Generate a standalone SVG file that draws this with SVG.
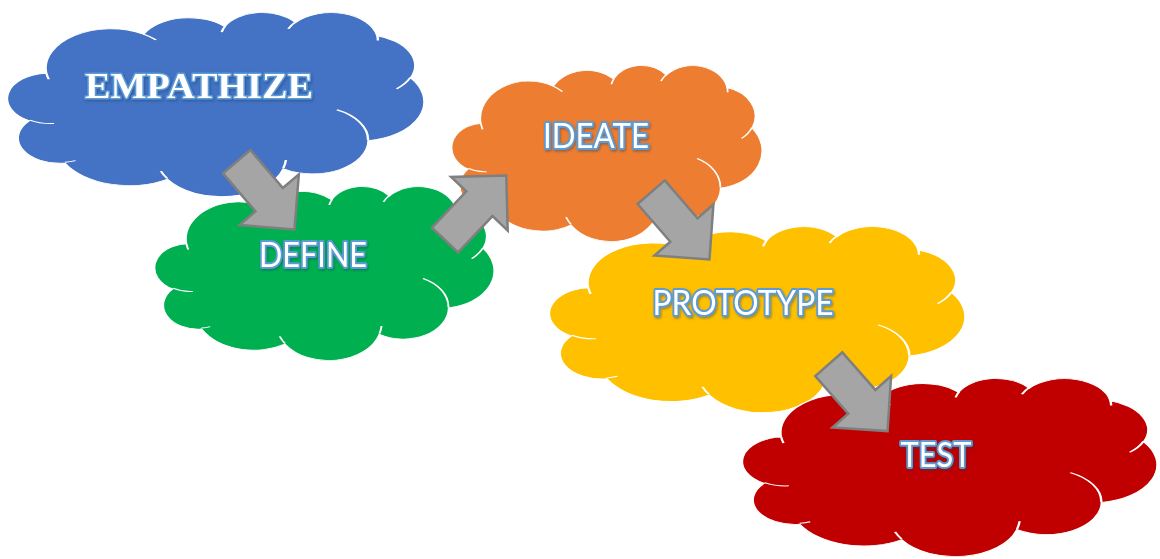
<svg xmlns="http://www.w3.org/2000/svg" xmlns:xlink="http://www.w3.org/1999/xlink" width="1160" height="559" viewBox="0 0 1160 559">
  <style>
    .cloud { stroke: #ffffff; stroke-width: 2; vector-effect: non-scaling-stroke; }
    .seams { fill: none; stroke: #ffffff; stroke-width: 2.5; vector-effect: non-scaling-stroke; }
    .blue { fill: #4472C4; }
    .green { fill: #00B050; }
    .orange { fill: #ED7D31; }
    .yellow { fill: #FFC000; }
    .red { fill: #C00000; }
    .arrow { fill: #A5A5A5; stroke: #7F7F7F; stroke-width: 2.5; stroke-linejoin: miter; }
    .label { font-family: Lato, "Open Sans", "Liberation Sans", sans-serif; font-size: 34px; fill: #ffffff; stroke: #5B9BD5; stroke-width: 4; paint-order: stroke; stroke-linejoin: round; text-anchor: middle; filter: url(#shadow); }
    .title { font-family: "Liberation Serif", "DejaVu Serif", serif; font-weight: bold; font-size: 36px; stroke-width: 3; }
  </style>
  <defs>
    <filter id="shadow" x="-10%" y="-30%" width="120%" height="160%">
      <feDropShadow dx="1" dy="1.5" stdDeviation="1" flood-color="#1F3864" flood-opacity="0.45"/>
    </filter>
    <!-- cloud outline on a 432 x 432 grid -->
    <path id="cloudShape" d="M 39,143.7 A 67.53 91.9 0 0 1 140.06,52.03 A 53.33 72.67 0 0 1 224.56,34.30 A 43.65 59.45 0 0 1 298.33,24.78 A 48.57 65.95 0 0 1 383.19,55.73 A 53.33 72.73 0 0 1 418.19,154.56 A 67.75 92.2 0 0 1 374.05,301.99 A 57.85 78.67 0 0 1 285.56,368.09 A 67.52 92.15 0 0 1 164.81,392.61 A 77.2 105.43 0 0 1 58.07,354.70 A 43.6 59.18 0 0 1 21.15,255.49 A 43.45 59.45 0 0 1 39,143.7 Z"/>
    <!-- inner seams between the lobes -->
    <path id="cloudSeams" d="M 46.93,261.77 A 43.45 59.45 0 0 1 21.60,253.80 M 69.28,348.99 A 43.6 59.18 0 0 1 58.20,352.80 M 164.78,390.90 A 67.52 92.15 0 0 1 158.10,373.48 M 288.27,347.51 A 67.52 92.15 0 0 1 285.60,366.60 M 341.29,229.54 A 57.85 78.67 0 0 1 373.81,300.90 M 417.98,153.54 A 53.33 72.73 0 0 1 403.51,180.30 M 383.24,54.26 A 48.57 65.95 0 0 1 384.00,66.90 M 290.78,39.52 A 48.57 65.95 0 0 1 298.20,23.40 M 221.41,47.20 A 43.65 59.45 0 0 1 225.00,33.31 M 140.00,51.92 A 67.53 91.9 0 0 1 153.00,65.40 M 41.27,157.89 A 67.53 91.9 0 0 1 39.00,143.70"/>
    <!-- block arrow pointing along +x, tail centred on the origin -->
    <polygon id="blockArrow" points="0,-18 50,-18 50,-39 89,0 50,39 50,18 0,18"/>
  </defs>

  <rect width="1160" height="559" fill="#ffffff"/>

  <g id="empathize">
    <g transform="translate(9,12) scale(0.9606,0.4259)">
      <use xlink:href="#cloudShape" class="cloud blue"/>
      <use xlink:href="#cloudSeams" class="seams"/>
    </g>
    <text class="label title" x="199" y="98" textLength="228" lengthAdjust="spacingAndGlyphs">EMPATHIZE</text>
  </g>

  <g id="define">
    <g transform="translate(156,186) scale(0.7824,0.4028)">
      <use xlink:href="#cloudShape" class="cloud green"/>
      <use xlink:href="#cloudSeams" class="seams"/>
    </g>
    <text class="label" x="313" y="267" textLength="108" lengthAdjust="spacingAndGlyphs">DEFINE</text>
  </g>

  <g id="ideate">
    <g transform="translate(453,65) scale(0.7153,0.4074)">
      <use xlink:href="#cloudShape" class="cloud orange"/>
      <use xlink:href="#cloudSeams" class="seams"/>
    </g>
    <text class="label" x="596" y="148" textLength="106" lengthAdjust="spacingAndGlyphs">IDEATE</text>
  </g>

  <g id="prototype">
    <g transform="translate(551,226) scale(0.9583,0.4306)">
      <use xlink:href="#cloudShape" class="cloud yellow"/>
      <use xlink:href="#cloudSeams" class="seams"/>
    </g>
    <text class="label" x="743" y="315" textLength="181" lengthAdjust="spacingAndGlyphs">PROTOTYPE</text>
  </g>

  <g id="test">
    <g transform="translate(744,378) scale(0.956,0.412)">
      <use xlink:href="#cloudShape" class="cloud red"/>
      <use xlink:href="#cloudSeams" class="seams"/>
    </g>
    <text class="label" x="936" y="467" textLength="71" lengthAdjust="spacingAndGlyphs">TEST</text>
  </g>

  <g id="connectors">
    <use xlink:href="#blockArrow" class="arrow" transform="translate(236.7,161.7) rotate(49.5)"/>
    <use xlink:href="#blockArrow" class="arrow" transform="translate(445,240) rotate(-46.5)"/>
    <use xlink:href="#blockArrow" class="arrow" transform="translate(651.2,192.2) rotate(49.1)"/>
    <use xlink:href="#blockArrow" class="arrow" transform="translate(828.8,364.2) rotate(48.7)"/>
  </g>
</svg>
